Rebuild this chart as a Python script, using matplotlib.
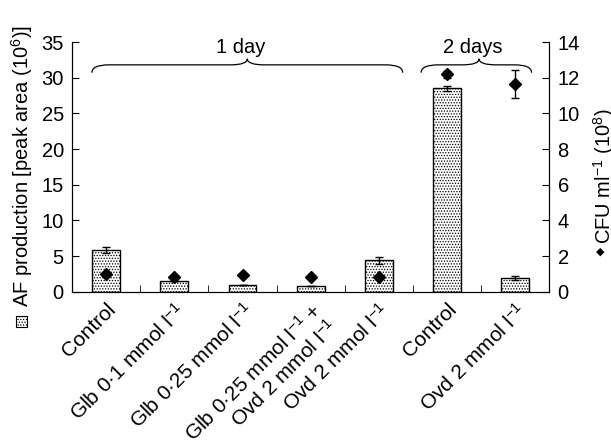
import numpy as np
import matplotlib
matplotlib.use("Agg")
import matplotlib.pyplot as plt
from matplotlib.path import Path
from matplotlib.patches import PathPatch, Rectangle

plt.rcParams['font.family'] = ['Liberation Sans', 'DejaVu Sans']
plt.rcParams['mathtext.fontset'] = 'custom'
plt.rcParams['mathtext.rm'] = 'Liberation Sans'
plt.rcParams['mathtext.it'] = 'Liberation Sans:italic'
plt.rcParams['hatch.color'] = '#555555'
plt.rcParams['hatch.linewidth'] = 0.6

# Data
categories = [
    "Control",
    "Glb 0·1 mmol l$^{-1}$",
    "Glb 0·25 mmol l$^{-1}$",
    "Glb 0·25 mmol l$^{-1}$ +\nOvd 2 mmol l$^{-1}$",
    "Ovd 2 mmol l$^{-1}$",
    "Control",
    "Ovd 2 mmol l$^{-1}$",
]
af_mean = [5.9, 1.55, 0.95, 0.8, 4.4, 28.5, 1.9]
af_err = [0.45, 0.0, 0.0, 0.0, 0.55, 0.4, 0.3]
cfu_mean = [1.0, 0.85, 0.95, 0.85, 0.85, 12.2, 11.65]
cfu_err = [0.0, 0.1, 0.0, 0.0, 0.0, 0.2, 0.8]
groups = [("1 day", 0, 4), ("2 days", 5, 6)]

fig = plt.figure(figsize=(6.11, 4.47), dpi=100)
ax = fig.add_axes([0.118, 0.347, 0.781, 0.559])
ax2 = ax.twinx()

x = np.arange(len(categories))
ax.bar(x, af_mean, width=0.41, color='white', edgecolor='black', linewidth=1.0,
       hatch='......', yerr=af_err, capsize=3, error_kw=dict(elinewidth=1, capthick=1))
ax2.errorbar(x, cfu_mean, yerr=cfu_err, fmt='D', color='black', markersize=6,
             capsize=3, elinewidth=1, capthick=1)

ax.set_xlim(-0.5, len(categories) - 0.5)
ax.set_ylim(0, 35)
ax2.set_ylim(0, 14)
ax.set_yticks(range(0, 36, 5))
ax2.set_yticks(range(0, 15, 2))

ax.set_xticks(x)
ax.set_xticklabels(categories, rotation=45, ha='right', rotation_mode='anchor', fontsize=15,
                   linespacing=1.0)
ax.tick_params(axis='x', which='major', length=0, pad=6)
ax.set_xticks(x[:-1] + 0.5, minor=True)
ax.tick_params(axis='x', which='minor', direction='in', length=5)
ax.tick_params(axis='y', labelsize=14.5, length=5, direction='in', pad=6)
ax2.tick_params(axis='y', labelsize=14.5, length=5, direction='in', pad=6)
for a in (ax, ax2):
    a.spines['top'].set_visible(False)

# braces over groups
def brace(a, x0, x1, xm, y, h_end, h_tip):
    r = 0.25
    verts = [(x0, y - h_end), (x0, y), (x0 + r, y), (xm - r, y), (xm, y), (xm, y + h_tip),
             (xm, y), (xm + r, y), (x1 - r, y), (x1, y), (x1, y - h_end)]
    codes = [Path.MOVETO, Path.CURVE3, Path.CURVE3, Path.LINETO, Path.CURVE3, Path.CURVE3,
             Path.CURVE3, Path.CURVE3, Path.LINETO, Path.CURVE3, Path.CURVE3]
    a.add_patch(PathPatch(Path(verts, codes), facecolor='none', edgecolor='black', lw=0.9))

brace_ends = {"1 day": (-0.21, 4.35, 2.07), "2 days": (4.62, 6.24, 5.47)}
for label, i0, i1 in groups:
    x0, x1, xm = brace_ends[label]
    brace(ax, x0, x1, xm, 31.8, 1.1, 0.85)
    ax.text(xm - 0.1, 34.2, label, ha='center', va='center', fontsize=14.5)

# axis labels with legend symbols
fig.text(0.036, 1 - 307 / 447, "AF production [peak area (10$^{6}$)]", rotation=90,
         ha='center', va='bottom', fontsize=14.5)
fig.patches.append(Rectangle((0.027, 1 - 327 / 447), 11 / 611, 11 / 447, transform=fig.transFigure,
                             facecolor='white', edgecolor='black', hatch='......', lw=0.8))
fig.text(0.982, 1 - 252 / 447, "◆", family='DejaVu Sans',
         ha='center', va='center', fontsize=8)
fig.text(0.988, 1 - 244 / 447, "CFU ml$^{-1}$ (10$^{8}$)", rotation=90,
         ha='center', va='bottom', fontsize=14.5)

fig.savefig("out.png", dpi=100)
